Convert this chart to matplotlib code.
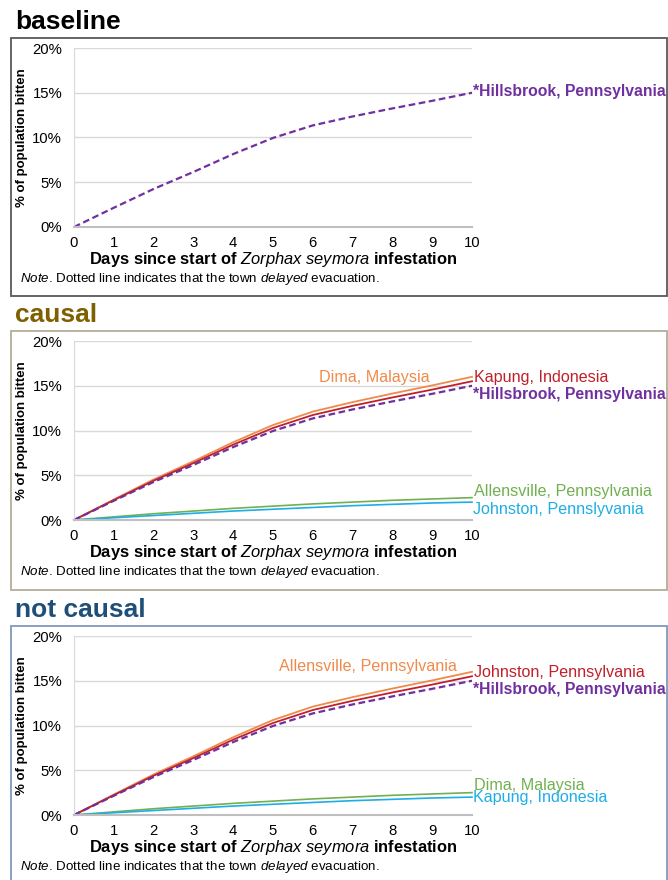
import numpy as np
import matplotlib.pyplot as plt
from matplotlib.patches import Rectangle
from matplotlib.ticker import FuncFormatter

plt.rcParams['font.family'] = ['Liberation Sans', 'DejaVu Sans']
plt.rcParams['mathtext.fontset'] = 'custom'
plt.rcParams['mathtext.it'] = 'Liberation Sans:italic'
plt.rcParams['mathtext.bf'] = 'Liberation Sans:bold'
plt.rcParams['mathtext.bfit'] = 'Liberation Sans:bold:italic'
plt.rcParams['mathtext.rm'] = 'Liberation Sans'

days = [0, 1, 2, 3, 4, 5, 6, 7, 8, 9, 10]
hillsbrook = [0, 2.15, 4.25, 6.15, 8.15, 9.95, 11.35, 12.35, 13.25, 14.1, 15.0]
high_top = [0, 2.29, 4.53, 6.56, 8.69, 10.61, 12.11, 13.17, 14.13, 15.04, 16.0]
high_mid = [0, 2.22, 4.39, 6.36, 8.42, 10.28, 11.73, 12.76, 13.69, 14.57, 15.5]
low_top = [0, 0.35, 0.7, 1.0, 1.3, 1.55, 1.8, 2.0, 2.2, 2.35, 2.5]
low_bot = [0, 0.25, 0.5, 0.75, 1.0, 1.2, 1.4, 1.6, 1.75, 1.9, 2.0]

panel_titles = ["baseline", "causal", "not causal"]
title_colors = ["#000000", "#7F6000", "#1F4E79"]
box_colors = ["#595959", "#B3AC98", "#7F9AB8"]

causal_names = ["Dima, Malaysia", "Kapung, Indonesia",
                "Allensville, Pennsylvania", "Johnston, Pennslyvania"]
notcausal_names = ["Allensville, Pennsylvania", "Johnston, Pennsylvania",
                   "Dima, Malaysia", "Kapung, Indonesia"]

ORANGE = "#F08A4B"
RED = "#C0202A"
GREEN = "#70B050"
BLUE = "#1EAEE6"
PURPLE = "#7030A0"
LBL = 11.6

W, H = 668, 880
fig = plt.figure(figsize=(W / 100, H / 100), dpi=100)


def fx(px):
    return px / W


def fy(py):
    return 1 - py / H


def panel(top, idx):
    # top = pixel y of the axes' 20% line
    fig.text(fx(15), fy(top - 26), panel_titles[idx], fontsize=19, fontweight='bold',
             color=title_colors[idx], va='center', ha='left')
    box_h = 258 if idx < 2 else 300
    fig.patches.append(Rectangle((fx(10.5), fy(top - 9.5 + box_h)), fx(656), box_h / H,
                                 transform=fig.transFigure, fill=False,
                                 edgecolor=box_colors[idx], linewidth=1.3))
    ax = fig.add_axes([fx(74), fy(top + 179), fx(398), 179 / H])
    ax.set_xlim(0, 10)
    ax.set_ylim(0, 20)
    ax.set_xticks(days)
    ax.set_yticks([0, 5, 10, 15, 20])
    ax.yaxis.set_major_formatter(FuncFormatter(lambda v, p: f"{v:.0f}%"))
    ax.tick_params(length=0, labelsize=10.7)
    ax.tick_params(axis='y', pad=8.5)
    ax.tick_params(axis='x', pad=6.5)
    ax.grid(axis='y', color='#D9D9D9', linewidth=1.0)
    ax.set_axisbelow(True)
    for s in ['top', 'right']:
        ax.spines[s].set_visible(False)
    ax.spines['left'].set_color('#D9D9D9')
    ax.spines['bottom'].set_color('#BFBFBF')
    ax.spines['bottom'].set_linewidth(1.5)
    ax.set_xlabel("Days since start of $\\bf{\\it{Zorphax\\ seymora}}$ infestation",
                  fontsize=11.85, fontweight='bold', labelpad=0)
    ax.set_ylabel("% of population bitten", fontsize=9.5, fontweight='bold', labelpad=3)
    fig.text(fx(20), fy(top + 231), "$\\it{Note}$. Dotted line indicates that the town "
             "$\\it{delayed}$ evacuation.", fontsize=9.6, va='center', ha='left')
    return ax


hb_label = "*Hillsbrook, Pennsylvania"

# baseline
ax1 = panel(48, 0)
ax1.plot(days, hillsbrook, color=PURPLE, linestyle=(0, (3, 1.6)), linewidth=1.6, clip_on=False)
ax1.text(10.03, 15.1, hb_label, color=PURPLE, fontsize=11.3, fontweight='bold',
         va='center', ha='left', clip_on=False)

# causal and not causal
for top, idx, names in [(341, 1, causal_names), (636, 2, notcausal_names)]:
    ax = panel(top, idx)
    ax.plot(days, low_top, color=GREEN, linewidth=1.2, clip_on=False)
    ax.plot(days, low_bot, color=BLUE, linewidth=1.2, clip_on=False)
    ax.plot(days, high_top, color=ORANGE, linewidth=1.3, clip_on=False)
    ax.plot(days, high_mid, color=RED, linewidth=1.3, clip_on=False)
    ax.plot(days, hillsbrook, color=PURPLE, linestyle=(0, (3, 1.6)), linewidth=1.6, clip_on=False)
    if idx == 1:
        ax.text(6.15, 15.95, names[0], color=ORANGE, fontsize=LBL, va='center', ha='left')
        lo = (3.2, 1.2)
    else:
        ax.text(5.15, 16.6, names[0], color=ORANGE, fontsize=LBL, va='center', ha='left')
        lo = (3.3, 1.9)
    ax.text(10.05, 15.9, names[1], color=RED, fontsize=LBL, va='center', ha='left',
            clip_on=False)
    ax.text(10.02, 14.0, hb_label, color=PURPLE, fontsize=11.3, fontweight='bold',
            va='center', ha='left', clip_on=False)
    ax.text(10.05, lo[0], names[2], color=GREEN, fontsize=LBL, va='center', ha='left',
            clip_on=False)
    ax.text(10.02, lo[1], names[3], color=BLUE, fontsize=LBL, va='center', ha='left',
            clip_on=False)

fig.savefig("out.png", dpi=100)
